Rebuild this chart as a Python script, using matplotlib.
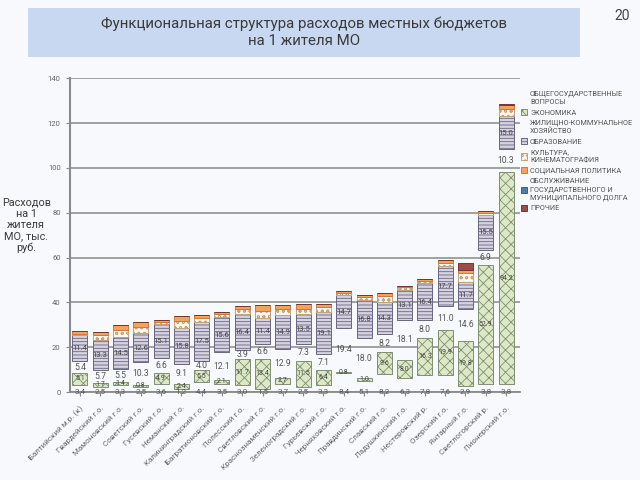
import matplotlib.pyplot as plt
import matplotlib.patches as mpatches
import numpy as np

plt.rcParams['font.family'] = ['Roboto', 'DejaVu Sans']
plt.rcParams['hatch.linewidth'] = 0.6

### data #####################################################################
mo_names = ['Балтийский м.р. (к)', 'Гвардейский г.о.', 'Мамоновский г.о.',
            'Советский г.о.', 'Гусевский г.о.', 'Неманский г.о.',
            'Калининградский г.о.', 'Багратионовский г.о.', 'Полесский г.о.',
            'Светловский г.о.', 'Краснознаменский г.о.', 'Зеленоградский г.о.',
            'Гурьевский г.о.', 'Черняховский г.о.', 'Правдинский г.о.',
            'Славский г.о.', 'Ладушкинский г.о.', 'Нестеровский р.',
            'Озерский г.о.', 'Янтарный г.о.', 'Светлогорский р.', 'Пионерский г.о.']

general   = [3.4, 2.5, 3.3, 2.5, 3.6, 1.2, 4.4, 3.5, 3.0, 1.5, 3.7,
             2.5, 3.3, 8.4, 5.1, 8.2, 6.3, 7.8, 7.6, 2.9, 3.8, 3.8]
economy   = [5.1, 1.7, 1.4, 0.8, 4.9, 2.4, 5.5, 2.1, 11.7, 13.4, 2.7,
             11.5, 6.4, 0.8, 1.0, 9.6, 8.0, 16.3, 19.9, 19.8, 52.9, 94.2]
housing   = [5.4, 5.7, 5.5, 10.3, 6.6, 9.1, 4.0, 12.1, 3.9, 6.6, 12.9,
             7.3, 7.1, 19.4, 18.0, 8.2, 18.1, 8.0, 11.0, 14.6, 6.9, 10.3]
education = [11.4, 13.3, 14.5, 12.6, 15.1, 15.8, 17.5, 15.6, 16.4, 11.4, 14.9,
             13.5, 19.1, 14.7, 16.8, 14.3, 13.1, 16.4, 17.7, 11.7, 15.5, 15.0]
culture   = [0.8, 2.2, 2.9, 2.9, 1.1, 3.4, 1.7, 1.5, 2.0, 3.5, 2.7,
             2.4, 2.0, 1.0, 1.6, 2.4, 1.2, 1.2, 1.6, 4.2, 1.0, 3.2]
social    = [1.0, 1.6, 2.2, 2.2, 0.8, 2.2, 1.1, 0.9, 1.3, 2.4, 1.9,
             2.0, 1.5, 0.8, 1.0, 1.3, 0.8, 0.8, 1.0, 1.2, 0.7, 1.5]
debt      = [0.0] * 22
other     = [0.0, 0.0, 0.0, 0.0, 0.0, 0.0, 0.0, 0.0, 0.0, 0.0, 0.0,
             0.0, 0.0, 0.0, 0.0, 0.0, 0.0, 0.0, 0.0, 3.2, 0.0, 0.6]

legend_names = ['ОБЩЕГОСУДАРСТВЕННЫЕ\nВОПРОСЫ', 'ЭКОНОМИКА',
                'ЖИЛИЩНО-КОММУНАЛЬНОЕ\nХОЗЯЙСТВО', 'ОБРАЗОВАНИЕ',
                'КУЛЬТУРА,\nКИНЕМАТОГРАФИЯ', 'СОЦИАЛЬНАЯ ПОЛИТИКА',
                'ОБСЛУЖИВАНИЕ\nГОСУДАРСТВЕННОГО И\nМУНИЦИПАЛЬНОГО ДОЛГА', 'ПРОЧИЕ']

### styles ###################################################################
series = [general, economy, housing, education, culture, social, debt, other]
styles = [dict(facecolor='none', edgecolor='none'),
          dict(facecolor='#dde9c6', edgecolor='#7f8f72', hatch='xxx'),
          dict(facecolor='none', edgecolor='none'),
          dict(facecolor='#d6d2e0', edgecolor='#6a6580', hatch='-----'),
          dict(facecolor='#fcf6ef', edgecolor='#c4a27c', hatch='ooo'),
          dict(facecolor='#f2a35c', edgecolor='#d0783a'),
          dict(facecolor='#4d7eab', edgecolor='#35628c'),
          dict(facecolor='#9e4b4b', edgecolor='#7a3434')]

bg = '#f8f9fd'
fig = plt.figure(figsize=(6.4, 4.8), dpi=100, facecolor=bg)
ax = fig.add_axes([0.109, 0.183, 0.703, 0.654], facecolor=bg)

x = np.arange(len(mo_names))
bottom = np.zeros(len(mo_names))
for vals, st in zip(series, styles):
    v = np.array(vals)
    ax.bar(x, v, 0.74, bottom=bottom, linewidth=0.7, zorder=3, **st)
    bottom = bottom + v

### value labels #############################################################
g = np.array(general); e = np.array(economy); h = np.array(housing); ed = np.array(education)
for i in range(len(mo_names)):
    ax.text(x[i], 0, f'{general[i]:.1f}', ha='center', va='center',
            fontsize=5.8, color='#555555', zorder=5)
    ax.text(x[i], g[i] + e[i] / 2, f'{economy[i]:.1f}', ha='center', va='center',
            fontsize=5, color='#444444', zorder=5)
    ax.text(x[i], g[i] + e[i] + h[i] / 2, f'{housing[i]:.1f}', ha='center', va='center',
            fontsize=6.2, color='#555555', zorder=5)
    ax.text(x[i], g[i] + e[i] + h[i] + ed[i] / 2, f'{education[i]:.1f}', ha='center',
            va='center', fontsize=5.5, color='#444444', zorder=5)

### axes #####################################################################
ax.set_ylim(0, 140)
ax.set_xlim(-0.5, 21.67)
ax.set_yticks(np.arange(0, 141, 20))
ax.yaxis.grid(True, color='#9a9a9a', linewidth=1.3, zorder=0)
ax.set_axisbelow(True)
ax.tick_params(axis='y', labelsize=5.5, labelcolor='#666666', color='#888888', length=3)
ax.set_xticks(x)
ax.set_xticklabels(mo_names, rotation=45, ha='right', rotation_mode='anchor',
                   fontsize=5.8, color='#666666')
ax.tick_params(axis='x', color='#888888', length=3, pad=6)
for s in ['top', 'right']:
    ax.spines[s].set_visible(False)
ax.spines['left'].set_color('#8a8a8a')
ax.spines['left'].set_linewidth(1.5)
ax.spines['bottom'].set_color('#8a8a8a')
ax.spines['bottom'].set_linewidth(1.3)

### legend ###################################################################
handles = [mpatches.Patch(label=n, linewidth=0.7, **st) for n, st in zip(legend_names, styles)]
fig.legend(handles=handles, loc='upper left', bbox_to_anchor=(0.803, 0.825),
           fontsize=5.3, frameon=False, handlelength=0.9, handleheight=0.9,
           handletextpad=0.4, labelspacing=0.45, labelcolor='#555555')

### title and side text ######################################################
fig.patches.append(mpatches.Rectangle((0.044, 0.882), 0.862, 0.102, transform=fig.transFigure,
                                      facecolor='#c9d8f1', edgecolor='none', zorder=0))
fig.text(0.475, 0.933, 'Функциональная структура расходов местных бюджетов\nна 1 жителя МО',
         ha='center', va='center', fontsize=10.8, color='#3a3a3a', linespacing=1.3)
fig.text(0.972, 0.967, '20', ha='center', va='center', fontsize=10, color='#444444')
fig.text(0.041, 0.53, 'Расходов\nна 1\nжителя\nМО, тыс.\nруб.', ha='center', va='center',
         fontsize=7.8, color='#3a3a3a', linespacing=1.15)

fig.savefig('out.png', dpi=100, facecolor=bg)
